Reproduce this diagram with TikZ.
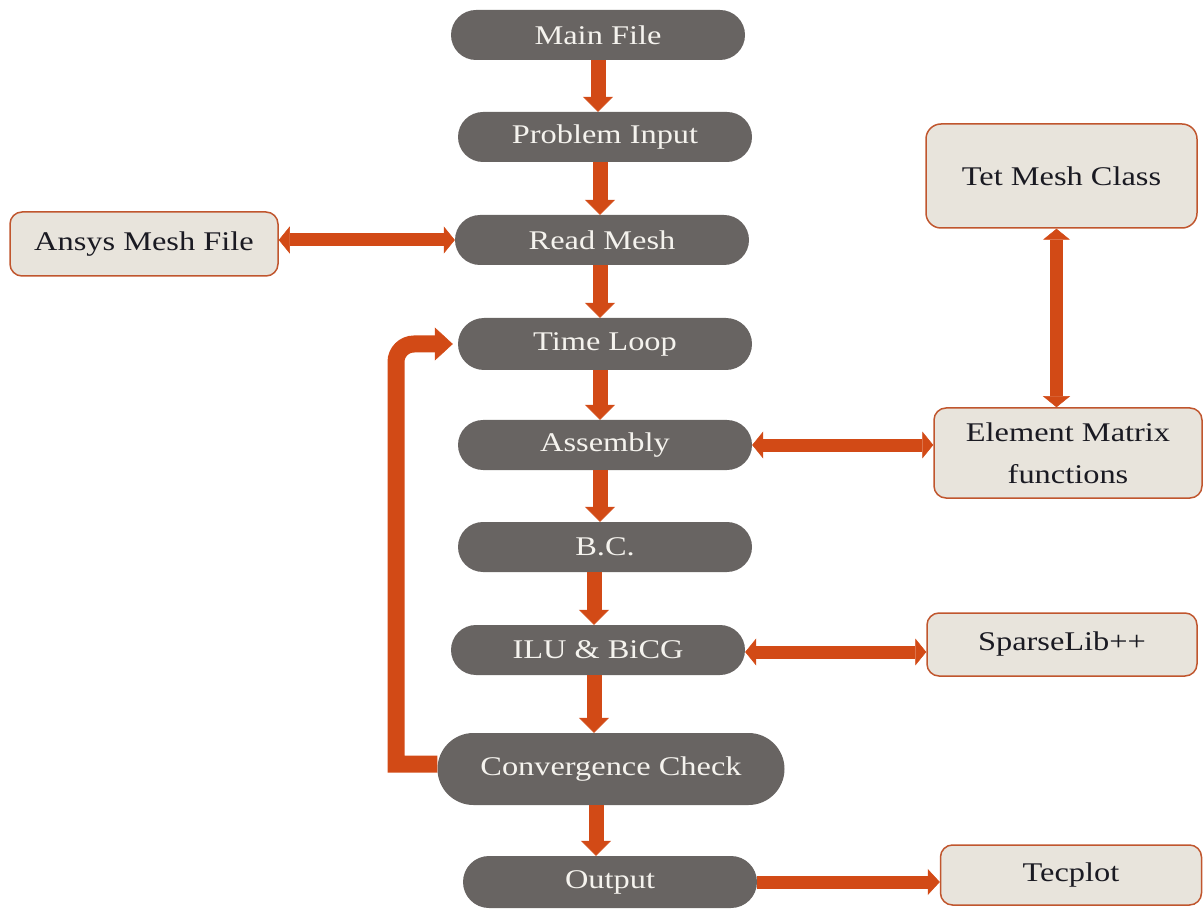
\documentclass[tikz,border=0pt]{standalone}
\usepackage{fontspec}
\setmainfont{Liberation Serif}[FakeStretch=1.2]
\usetikzlibrary{arrows.meta}
\definecolor{arr}{HTML}{D24A16}
\definecolor{pill}{HTML}{686462}
\definecolor{boxfill}{HTML}{E8E4DC}
\definecolor{boxline}{HTML}{C0562E}
\definecolor{pilltext}{HTML}{F5F3EE}
\definecolor{boxtext}{HTML}{1A1A22}
\tikzset{
  pillnode/.style={fill=pill, text=pilltext, inner sep=0pt, minimum height=50pt, minimum width=294pt, rounded corners=25pt, font=\fontsize{27}{32}\selectfont},
  boxnode/.style={fill=boxfill, draw=boxline, line width=1.5pt, text=boxtext, inner sep=0pt, rounded corners=12pt, align=center, font=\fontsize{27}{42}\selectfont},
  flow/.style={draw=arr, line width=15pt, -{Triangle[width=30pt,length=15pt,line width=0.5pt]}},
  dbl/.style={draw=arr, line width=13pt, {Triangle[width=27pt,length=11pt,line width=0.5pt]}-{Triangle[width=27pt,length=11pt,line width=0.5pt]}},
  sgl/.style={draw=arr, line width=13pt, -{Triangle[width=26pt,length=12pt,line width=0.5pt]}},
  loopar/.style={draw=arr, line width=17pt, line join=miter, -{Triangle[width=33pt,length=18pt,line width=0.5pt]}}
}
\begin{document}
\begin{tikzpicture}[x=1pt,y=-1pt]
\useasboundingbox (0,0) rectangle (1203,909);
% main column
\node[pillnode] (mf) at (598,35) {Main File};
\node[pillnode] (pi) at (605,137) {Problem Input};
\node[pillnode] (rm) at (602,240) {Read Mesh};
\node[pillnode, minimum height=52pt, rounded corners=26pt] (tl) at (605,344) {Time Loop};
\node[pillnode] (as) at (605,445) {Assembly};
\node[pillnode] (bc) at (605,547) {B.C.};
\node[pillnode] (il) at (598,650) {ILU \& BiCG};
\node[pillnode, minimum width=347pt, minimum height=72pt, rounded corners=36pt] (cv) at (611,769) {Convergence Check};
\node[pillnode, minimum height=52pt, rounded corners=26pt] (ou) at (610,882) {Output};
% side boxes
\node[boxnode, minimum width=268pt, minimum height=64pt] (an) at (144,244) {Ansys Mesh File};
\node[boxnode, minimum width=271pt, minimum height=104pt, rounded corners=15pt] (te) at (1061.5,176) {Tet Mesh Class};
\node[boxnode, minimum width=268pt, minimum height=90pt] (em) at (1068,453) {Element Matrix\\functions};
\node[boxnode, minimum width=270pt, minimum height=63pt] (sp) at (1062,644.5) {SparseLib++};
\node[boxnode, minimum width=261pt, minimum height=60pt] (tc) at (1071,875) {Tecplot};
% vertical flow arrows
\draw[flow] (mf.south) -- (mf.south |- pi.north);
\draw[flow] ([xshift=-5pt]pi.south) -- ([xshift=-5pt]pi.south |- rm.north);
\draw[flow] ([xshift=-2pt]rm.south) -- ([xshift=-2pt]rm.south |- tl.north);
\draw[flow] ([xshift=-5pt]tl.south) -- ([xshift=-5pt]tl.south |- as.north);
\draw[flow] ([xshift=-5pt]as.south) -- ([xshift=-5pt]as.south |- bc.north);
\draw[flow] ([xshift=-11pt]bc.south) -- ([xshift=-11pt]bc.south |- il.north);
\draw[flow] ([xshift=-4pt]il.south) -- ([xshift=-4pt]il.south |- cv.north);
\draw[flow] ([xshift=-15pt]cv.south) -- ([xshift=-15pt]cv.south |- ou.north);
% loop back
\coordinate (lb) at ([yshift=5pt]cv.west -| 396,0);
\draw[loopar] ([yshift=5pt]cv.west) -- (lb) [rounded corners=18pt] -- (lb |- tl.west) -- ([xshift=-5pt]tl.west);
% side connectors
\draw[dbl] (an.east |- rm.west) -- (rm.west);
\draw[dbl] (as.east) -- (as.east -| em.west);
\draw[dbl] ([yshift=-2pt]il.east) -- ([yshift=-2pt]il.east -| sp.west);
\draw[dbl] ([xshift=-5pt]te.south) -- ([xshift=-5pt]te.south |- em.north);
\draw[sgl] (ou.east) -- (ou.east -| tc.west);
\end{tikzpicture}
\end{document}
